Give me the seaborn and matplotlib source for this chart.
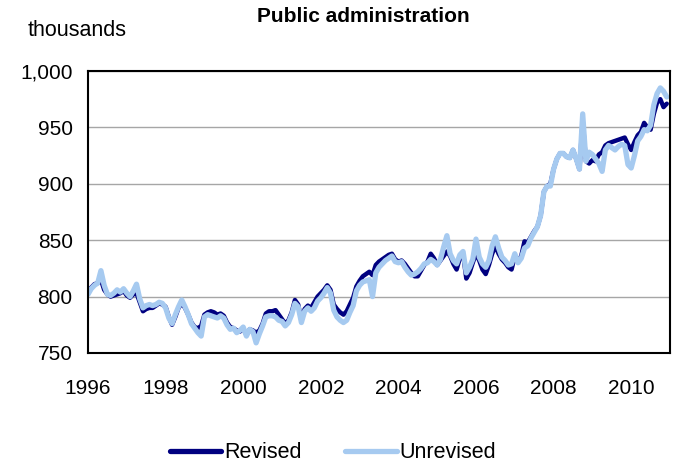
import matplotlib
matplotlib.use("Agg")
import matplotlib.pyplot as plt
import seaborn as sns
import numpy as np
import pandas as pd
from matplotlib.lines import Line2D

years = list(range(1996, 2011))

revised = [
    805, 808, 811, 812, 815, 806, 802, 800, 801, 802, 803, 805,   # 1996
    801, 799, 802, 803, 795, 787, 789, 790, 790, 792, 794, 793,   # 1997
    791, 782, 775, 782, 790, 794, 790, 784, 777, 773, 772, 774,   # 1998
    784, 786, 787, 786, 784, 785, 783, 777, 773, 772, 770, 769,   # 1999
    772, 766, 771, 770, 768, 770, 776, 785, 787, 787, 788, 784,   # 2000
    780, 776, 779, 786, 797, 793, 779, 789, 792, 790, 795, 800,   # 2001
    803, 806, 810, 806, 793, 789, 786, 784, 787, 793, 799, 809,   # 2002
    814, 818, 820, 822, 819, 828, 831, 833, 835, 837, 838, 833,   # 2003
    831, 832, 829, 825, 821, 818, 818, 823, 828, 831, 838, 834,   # 2004
    828, 832, 836, 840, 836, 829, 824, 834, 838, 816, 821, 830,   # 2005
    838, 832, 824, 820, 828, 838, 845, 838, 833, 830, 826, 824,   # 2006
    836, 831, 836, 849, 848, 853, 858, 862, 872, 893, 898, 900,   # 2007
    913, 922, 927, 927, 924, 923, 930, 922, 913, 956, 920, 918,   # 2008
    921, 920, 926, 928, 934, 936, 937, 938, 939, 940, 941, 935,   # 2009
    930, 937, 943, 946, 954, 950, 948, 962, 972, 975, 968, 971,   # 2010
]

unrevised = [
    802, 807, 810, 812, 823, 810, 802, 801, 803, 806, 804, 807,   # 1996
    803, 800, 805, 811, 798, 790, 792, 793, 792, 793, 795, 794,   # 1997
    790, 781, 776, 784, 791, 797, 791, 784, 776, 772, 768, 765,   # 1998
    782, 784, 783, 782, 781, 783, 781, 775, 771, 772, 768, 770,   # 1999
    773, 765, 771, 769, 759, 767, 774, 782, 783, 783, 782, 779,   # 2000
    778, 774, 777, 784, 794, 791, 777, 787, 790, 787, 790, 796,   # 2001
    799, 803, 808, 803, 788, 782, 779, 777, 779, 786, 792, 805,   # 2002
    810, 813, 814, 815, 800, 821, 826, 829, 832, 834, 836, 831,   # 2003
    830, 831, 826, 822, 819, 820, 822, 825, 829, 830, 833, 831,   # 2004
    828, 833, 844, 854, 838, 832, 829, 837, 840, 821, 826, 833,   # 2005
    851, 835, 829, 826, 832, 845, 853, 843, 835, 832, 828, 829,   # 2006
    838, 830, 834, 843, 845, 852, 857, 862, 872, 893, 898, 898,   # 2007
    913, 922, 927, 927, 924, 923, 930, 922, 913, 962, 920, 928,   # 2008
    926, 922, 918, 911, 930, 934, 932, 930, 933, 935, 934, 917,   # 2009
    914, 925, 938, 942, 948, 947, 952, 970, 980, 985, 982, 977,   # 2010
]

tick_years = [1996, 1998, 2000, 2002, 2004, 2006, 2008, 2010]
y_ticks = [750, 800, 850, 900, 950, 1000]
y_labels = ["750", "800", "850", "900", "950", "1,000"]

t = [y + m / 12 for y in years for m in range(12)]
df = pd.DataFrame({
    "t": t * 2,
    "value": revised + unrevised,
    "series": ["Revised"] * len(revised) + ["Unrevised"] * len(unrevised),
})

sns.set_theme(style="white")
plt.rcParams["font.family"] = ["Liberation Sans", "DejaVu Sans"]
plt.rcParams["text.color"] = "black"
plt.rcParams["xtick.color"] = "black"
plt.rcParams["ytick.color"] = "black"
plt.rcParams["axes.labelcolor"] = "black"

fig = plt.figure(figsize=(6.76, 4.68), dpi=100)
ax = fig.add_axes([88 / 676, 1 - 353 / 468, (670 - 88) / 676, (353 - 71) / 468])

sns.lineplot(data=df, x="t", y="value", hue="series",
             palette={"Revised": "#000080", "Unrevised": "#a6caf0"},
             ax=ax, legend=False, estimator=None)
lines = ax.get_lines()
lines[0].set_linewidth(3.2)
lines[1].set_linewidth(3.8)

ax.set_xlim(1996, 2011)
ax.set_ylim(750, 1000)
ax.set_xticks(tick_years)
ax.set_xticklabels([str(y) for y in tick_years], fontsize=15)
ax.set_yticks(y_ticks)
ax.set_yticklabels(y_labels, fontsize=15)
ax.tick_params(axis="x", direction="in", length=5, width=1, color="#555555",
               labelcolor="black", pad=19)
ax.tick_params(axis="y", length=0, pad=11, labelcolor="black")
ax.set_xlabel("")
ax.set_ylabel("")
ax.grid(axis="y", color="#a6a6a6", linewidth=1)
ax.grid(axis="x", visible=False)
ax.set_axisbelow(True)
for s in ax.spines.values():
    s.set_visible(True)
    s.set_color("black")
    s.set_linewidth(1.5)

fig.text(363 / 676, 1 - 17 / 468, "Public administration", ha="center", va="center",
         fontsize=15, fontweight="bold")
fig.text(28 / 676, 1 - 30 / 468, "thousands", ha="left", va="center", fontsize=15.5)

handles = [Line2D([], [], color="#000080", linewidth=3.8),
           Line2D([], [], color="#a6caf0", linewidth=3.8)]
fig.legend(handles, ["Revised", "Unrevised"], loc="center",
           bbox_to_anchor=(333 / 676, 1 - 453 / 468),
           ncol=2, frameon=False, fontsize=15.5, handlelength=2.4, handletextpad=0.15,
           columnspacing=2.0)

fig.savefig("out.png", dpi=100)
